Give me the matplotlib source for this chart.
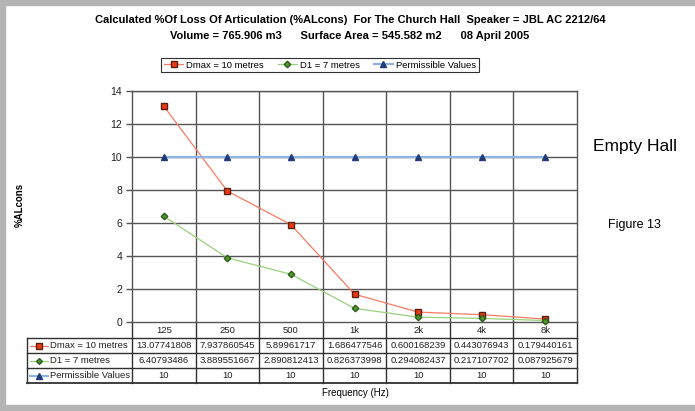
import matplotlib
matplotlib.use("Agg")
import matplotlib.pyplot as plt
from matplotlib.lines import Line2D
from matplotlib.patches import Rectangle
import matplotlib.transforms as mtransforms

plt.rcParams['font.family'] = ['Liberation Sans', 'DejaVu Sans']

categories = ["125", "250", "500", "1k", "2k", "4k", "8k"]
dmax = [13.07741808, 7.937860545, 5.89961717, 1.686477546, 0.600168239, 0.443076943, 0.179440161]
d1 = [6.40793486, 3.889551667, 2.890812413, 0.826373998, 0.294082437, 0.217107702, 0.087925679]
permissible = [10, 10, 10, 10, 10, 10, 10]
dmax_txt = ["13.07741808", "7.937860545", "5.89961717", "1.686477546", "0.600168239", "0.443076943", "0.179440161"]
d1_txt = ["6.40793486", "3.889551667", "2.890812413", "0.826373998", "0.294082437", "0.217107702", "0.087925679"]
perm_txt = ["10"] * 7
series_names = ["Dmax = 10 metres", "D1 = 7 metres", "Permissible Values"]

W, H = 695, 411
fig = plt.figure(figsize=(W / 100, H / 100), dpi=100)
fig.patch.set_facecolor("white")

# gray frame (top, left, bottom)
border = "#b4b4b4"
fig.patches.append(Rectangle((0, 1 - 5 / H), 1, 5 / H, transform=fig.transFigure, color=border, zorder=0))
fig.patches.append(Rectangle((0, 0), 5 / W, 1, transform=fig.transFigure, color=border, zorder=0))
fig.patches.append(Rectangle((0, 0), 1, 6 / H, transform=fig.transFigure, color=border, zorder=0))

L, R, T, B = 132, 577, 91, 322
ax = fig.add_axes([L / W, 1 - B / H, (R - L) / W, (B - T) / H])
ax.set_xlim(0, 7)
ax.set_ylim(0, 14)
ax.set_yticks(range(0, 15, 2))
ax.set_xticks([])
grid_c = "#555555"
for y in range(2, 15, 2):
    ax.axhline(y, color=grid_c, lw=1.0, zorder=1)
for x in range(1, 7):
    ax.axvline(x, color=grid_c, lw=1.0, zorder=1)
for s in ax.spines.values():
    s.set_color(grid_c)
    s.set_linewidth(1.0)
ax.tick_params(axis='y', labelsize=7.5, length=4, width=1, color=grid_c, pad=3, labelcolor="#202020")

xs = [i + 0.5 for i in range(len(categories))]
styles = [
    dict(color="#f77c62", marker="s", mfc="#ee3a14", mec="#5a2010", ms=5, lw=0.9),
    dict(color="#98d27c", marker="D", mfc="#4f9a2e", mec="#2d5a1a", ms=3.3, lw=0.9),
    dict(color="#8db4e2", marker="^", mfc="#1f3c78", mec="#1f3c78", ms=4.2, lw=1.6),
]
handles = []
for vals, st, name in zip([dmax, d1, permissible], styles, series_names):
    h, = ax.plot(xs, vals, zorder=3, clip_on=False, label=name, **st)
    handles.append(h)

# data table
trans = mtransforms.blended_transform_factory(ax.transData, ax.transAxes)
colw = (R - L) / 7
x_left = (27 - L) / colw

def ya(py):
    return (B - py) / (B - T)

row_edges = [322, 338, 353, 368, 383]
tc = "#303030"
for i, py in enumerate(row_edges[1:]):
    ax.add_line(Line2D([x_left, 7], [ya(py)] * 2, transform=trans, color=tc,
                       lw=1.0 if i < 3 else 1.3, clip_on=False))
for x in range(0, 8):
    ax.add_line(Line2D([x, x], [ya(322), ya(383)], transform=trans, color=tc, lw=1.0, clip_on=False))
ax.add_line(Line2D([x_left, x_left], [ya(338), ya(383)], transform=trans, color=tc, lw=1.0, clip_on=False))

fs = 6.8
for i, c in enumerate(categories):
    ax.text(i + 0.5, ya(330), c, transform=trans, ha='center', va='center', fontsize=fs, color="#202020")
for r, row in enumerate([dmax_txt, d1_txt, perm_txt]):
    yc = ya((row_edges[r + 1] + row_edges[r + 2]) / 2)
    for i, v in enumerate(row):
        ax.text(i + 0.5, yc, v, transform=trans, ha='center', va='center', fontsize=fs, color="#202020")
    st = styles[r]
    k0 = x_left + 3 / colw
    k1 = x_left + 21 / colw
    ax.add_line(Line2D([k0, k1], [yc, yc], transform=trans, color=st['color'], lw=st['lw'], clip_on=False))
    ax.add_line(Line2D([(k0 + k1) / 2], [yc], transform=trans, marker=st['marker'], mfc=st['mfc'],
                       mec=st['mec'], ms=st['ms'] * 0.9, lw=0, clip_on=False))
    ax.text(x_left + 23 / colw, yc, series_names[r], transform=trans, ha='left', va='center',
            fontsize=fs, color="#202020")

# titles and labels
fig.text(350 / W, 1 - 20 / H, "Calculated %Of Loss Of Articulation (%ALcons)  For The Church Hall  Speaker = JBL AC 2212/64",
         ha='center', va='center', fontsize=8, fontweight='bold')
fig.text(350 / W, 1 - 36 / H, "Volume = 765.906 m3      Surface Area = 545.582 m2      08 April 2005",
         ha='center', va='center', fontsize=8, fontweight='bold')
fig.text(20 / W, 1 - 205 / H, "%ALcons", rotation=90, ha='center', va='center', fontsize=7, fontweight='bold')
fig.text(355 / W, 1 - 393 / H, "Frequency (Hz)", ha='center', va='center', fontsize=7)
fig.text(635 / W, 1 - 147 / H, "Empty Hall", ha='center', va='center', fontsize=12.5)
fig.text(634 / W, 1 - 225 / H, "Figure 13", ha='center', va='center', fontsize=9)

leg = fig.legend(handles=handles, loc='center', bbox_to_anchor=(320 / W, 1 - 65 / H), ncol=3,
                 fontsize=6.8, frameon=True, fancybox=False, edgecolor="#303030", framealpha=1,
                 borderpad=0.3, handlelength=2.0, handletextpad=0.3, columnspacing=1.5)
leg.get_frame().set_linewidth(0.8)

fig.savefig("out.png", dpi=100, facecolor="white")
